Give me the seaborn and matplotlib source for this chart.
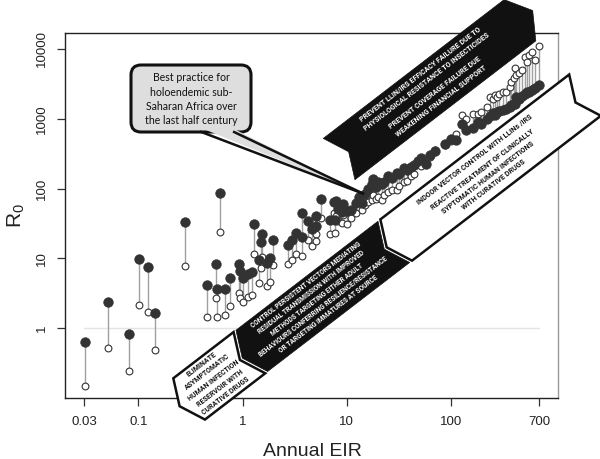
import numpy as np
import pandas as pd
import matplotlib
matplotlib.use('Agg')
import matplotlib.pyplot as plt
import seaborn as sns
from matplotlib.patches import Polygon, FancyBboxPatch
from matplotlib.ticker import NullLocator

# ---------------- data ----------------
eir = [0.031, 0.051, 0.082, 0.102, 0.123, 0.144, 0.28, 0.45, 0.56, 0.57,
       0.60, 0.67, 0.75, 0.93, 0.94, 1.0, 1.12, 1.24, 1.29, 1.45,
       1.50, 1.52, 1.70, 1.82, 1.97, 2.74, 3.0, 3.27, 3.70, 3.73,
       4.2, 4.67, 5.07, 5.10, 5.66, 6.95, 7.5, 7.76, 7.8, 8.2,
       9.0, 9.2, 10.0, 11.0, 12.2, 13, 14, 15, 16, 17.4,
       18, 19, 20, 21.7, 22.5, 25, 27, 30, 32, 35,
       38, 41, 44, 48, 52, 58, 63, 70, 88, 100,
       111, 127, 140, 161, 182, 196, 220, 236, 255, 265,
       275, 290, 315, 335, 365, 380, 400, 410, 425, 450,
       480, 510, 540, 560, 595, 640, 700]
r0_filled = [0.63, 2.36, 0.82, 9.8, 7.5, 1.66, 32.7, 4.1, 8.2, 3.6,
             86.8, 3.6, 5.3, 8.2, 6.6, 5.3, 5.9, 6.3, 31.6, 9.4,
             17.2, 22.4, 8.5, 10.0, 18.2, 15.6, 18.6, 23.2, 20.0, 44.0,
             33.8, 26.0, 40.0, 28.9, 72.0, 35.0, 65, 35.0, 66.0, 50.7,
             46.0, 59.8, 48.0, 49.0, 63.0, 75, 62, 85, 100, 115,
             139, 105, 125, 118, 124, 150, 140, 170, 160, 195,
             185, 205, 216, 250, 270, 228, 300, 350, 440, 520,
             490, 850, 700, 730, 900, 850, 1000, 1100, 1200, 1150,
             1260, 1300, 1330, 1400, 1480, 1600, 1650, 1650, 2050, 1900,
             2100, 2300, 2450, 2400, 2550, 2800, 3000]
r0_open = [0.15, 0.52, 0.24, 2.16, 1.7, 0.48, 7.9, 1.44, 2.7, 1.44,
           24, 1.57, 2.1, 3.2, 2.7, 2.4, 2.8, 3.0, 11.4, 4.4,
           7.2, 10.5, 4.0, 4.6, 8.0, 8.2, 9.6, 11.7, 10.8, 20.0,
           18.2, 15.0, 22.0, 17.6, 38.0, 22.0, 45, 23.0, 40.0, 34.0,
           32.0, 42.0, 30.6, 38.0, 45.0, 55, 50, 58, 65, 68,
           80, 72, 75, 68, 80, 90, 95, 95, 110, 124,
           130, 150, 160, 228, 210, 240, 280, 360, 420, 480,
           600, 1130, 1000, 1180, 1180, 1250, 1500, 2050, 1900, 2200,
           2060, 2300, 2450, 2450, 2900, 3400, 3900, 5300, 4200, 4600,
           5000, 7700, 6600, 8200, 9000, 7000, 11000]

x_ticks = [0.03, 0.1, 1, 10, 100, 700]
x_ticklabels = ['0.03', '0.1', '1', '10', '100', '700']
y_ticks = [1, 10, 100, 1000, 10000]
y_ticklabels = ['1', '10', '100', '1000', '10000']

callout_lines = ["Best practice for", "holoendemic sub-",
                 "Saharan Africa over", "the last half century"]
band_a_text = ["PREVENT LLIN/IRS EFFICACY FAILURE DUE TO",
               "PHYSIOLOGICAL RESISTANCE TO INSECTICIDES",
               "PREVENT COVERAGE FAILURE DUE",
               "WEAKENING FINANCIAL SUPPORT"]
band_c_text = ["ELIMINATE", "ASYMPTOMATIC", "HUMAN INFECTION",
               "RESERVOIR WITH", "CURATIVE DRUGS"]
band_d_text = ["CONTROL PERSISTENT VECTORS MEDIATING",
               "RESIDUAL TRANSMISSION WITH IMPROVED",
               "METHODS TARGETING EITHER ADULT",
               "BEHAVIOURS CONFERRING RESILIENCE/RESISTANCE",
               "OR TARGETING IMMATURES AT SOURCE"]
band_b_text = ["INDOOR VECTOR CONTROL WITH LLINs /IRS",
               "REACTIVE TREATMENT OF CLINICALLY",
               "SYPTOMATIC HUMAN INFECTIONS",
               "WITH CURATIVE DRUGS"]

# ---------------- style ----------------
sns.set_style('ticks')
plt.rcParams['font.family'] = ['Liberation Sans', 'DejaVu Sans']
plt.rcParams['mathtext.fontset'] = 'custom'
plt.rcParams['mathtext.rm'] = 'Liberation Sans'
plt.rcParams['mathtext.it'] = 'Liberation Sans:italic'

W, H = 600, 459
fig = plt.figure(figsize=(W / 100, H / 100), dpi=100)
ax = fig.add_axes([65 / W, 1 - 398 / H, 493 / W, 365 / H])
ax.set_xscale('log')
ax.set_yscale('log')
ax.set_xlim(0.01972, 1064)
ax.set_ylim(0.1, 16950)

df = pd.DataFrame({'eir': eir, 'filled': r0_filled, 'open': r0_open})

ax.plot([x_ticks[0], x_ticks[-1]], [1, 1], color='#e4e4e4', lw=1, zorder=1)
ax.vlines(df['eir'], df['filled'], df['open'], color='#a0a0a0', lw=1, zorder=2)
sns.scatterplot(data=df, x='eir', y='open', ax=ax, s=24, color='white',
                edgecolor='#333333', linewidth=0.8, zorder=3, legend=False)
sns.scatterplot(data=df, x='eir', y='filled', ax=ax, s=50, color='#333333',
                edgecolor='#333333', linewidth=0.3, zorder=4, legend=False)

ax.xaxis.set_minor_locator(NullLocator())
ax.yaxis.set_minor_locator(NullLocator())
ax.set_xticks(x_ticks)
ax.set_xticklabels(x_ticklabels)
ax.set_yticks(y_ticks)
ax.set_yticklabels(y_ticklabels, rotation=90, va='center')
ax.tick_params(axis='both', length=6, width=0.9, color='#333333',
               labelsize=9.5, labelcolor='#222222', direction='out')
ax.tick_params(axis='x', pad=7)
ax.tick_params(axis='y', pad=6)
for side in ['left', 'bottom', 'top']:
    ax.spines[side].set_color('#222222')
    ax.spines[side].set_linewidth(1)
ax.spines['right'].set_color('#999999')
ax.spines['right'].set_linewidth(1)

ax.set_xlabel('Annual EIR', fontsize=14, color='#222222')
ax.xaxis.set_label_coords(0.502, -0.124)
ax.set_ylabel(r'$\mathrm{R}_0$', fontsize=15, color='#222222',
              ha='center', va='center')
ax.yaxis.set_label_coords(-0.098, 0.5)

# ---------------- annotation overlay (pixel coordinates) ----------------
ov = fig.add_axes([0, 0, 1, 1])
ov.set_xlim(0, W)
ov.set_ylim(H, 0)
ov.axis('off')
ov.patch.set_alpha(0)
ov.set_zorder(5)

theta = np.deg2rad(37.5)
O = np.array([173.3, 378.3])
u = np.array([np.cos(theta), -np.sin(theta)])
n = np.array([np.sin(theta), np.cos(theta)])
band_font = ['Roboto', 'DejaVu Sans']


def P(a, p):
    return O + a * u + p * n


def band(shape, fc, ec, lw):
    pts = [P(a, p) for a, p in shape]
    ov.add_patch(Polygon(pts, closed=True, fc=fc, ec=ec, lw=lw,
                         joinstyle='miter', zorder=2))


def band_text(lines, along, perps, color, size):
    for t, p in zip(lines, perps):
        x, y = P(along, p)
        ov.text(x, y, t, rotation=37.5, rotation_mode='anchor',
                ha='center', va='center', color=color, fontsize=size,
                fontweight='bold', family=band_font, zorder=3)


# upper black band (points up-right)
band([(265, -99), (493, -99), (509, -73), (493, -47), (265, -47), (277, -73)],
     '#111111', '#111111', 0.5)
band_text(band_a_text, 381, [-91.5, -81.0, -67.5, -57.0], 'white', 5.1)

# lower row of bands (point down-left)
band([(0, 0), (76, 0), (64, 26), (76, 52), (0, 52), (-12, 26)],
     'white', '#111111', 1.8)
band_text(band_c_text, 31, [6, 16, 26, 36, 46], '#111111', 5.0)

band([(79, 0), (258, 0), (246, 26), (258, 52), (79, 52), (67, 26)],
     '#111111', '#111111', 0.5)
band_text(band_d_text, 162, [7, 16, 25, 34, 43], 'white', 4.8)

band([(261, 0), (499, 0), (487, 26), (499, 52), (261, 52), (249, 26)],
     'white', '#111111', 1.8)
band_text(band_b_text, 372, [9, 23, 32, 41], '#111111', 5.1)

# callout box with pointer
box_fc = '#dedede'
ov.add_patch(FancyBboxPatch((131, 65), 120, 67,
                            boxstyle='round,pad=0,rounding_size=10',
                            fc=box_fc, ec='#111111', lw=2.2, zorder=4))
tip = (364, 194)
ov.add_patch(Polygon([(201, 128), tip, (232, 128)], closed=True,
                     fc=box_fc, ec='none', zorder=5))
ov.plot([200, tip[0]], [131.5, tip[1]], color='#111111', lw=1.8, zorder=6,
        solid_capstyle='butt')
ov.plot([233, tip[0]], [131.5, tip[1]], color='#111111', lw=1.8, zorder=6,
        solid_capstyle='butt')
for t, y in zip(callout_lines, [77.5, 92, 106.5, 121]):
    ov.text(191, y, t, ha='center', va='center', fontsize=7.6,
            color='#111111', family=['Lato', 'DejaVu Sans'], zorder=7)

fig.savefig('out.png', dpi=100)
